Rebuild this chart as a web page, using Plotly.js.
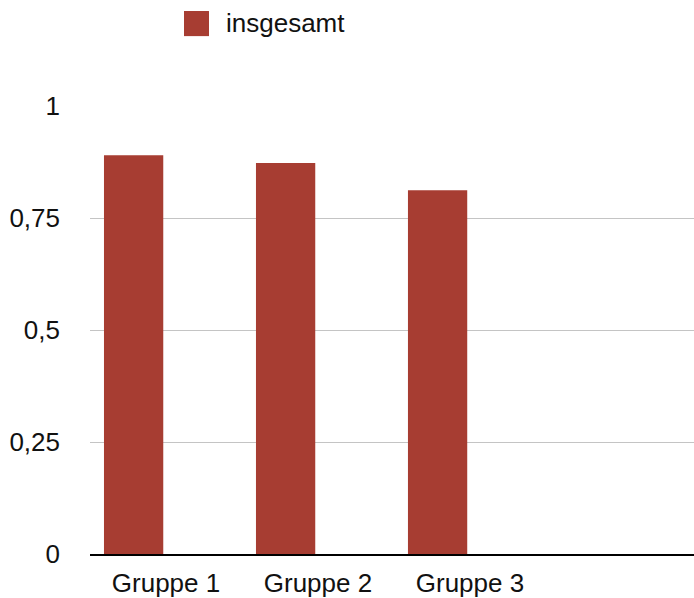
<!DOCTYPE html>
<html>
<head>
<meta charset="utf-8">
<script src="https://cdn.plot.ly/plotly-3.0.1.min.js"></script>
<style>
  html, body { margin: 0; padding: 0; background: #fff; }
  #chart { width: 694px; height: 598px; }
</style>
</head>
<body>
<div id="chart"></div>
<script>
// Share per group
const groups = ['Gruppe 1', 'Gruppe 2', 'Gruppe 3'];
const seriesName = 'insgesamt';
const values = [0.89, 0.873, 0.812];
const yTickVals = [0, 0.25, 0.5, 0.75, 1];
const yTickText = ['0', '0,25', '0,5', '0,75', '1'];

const barColor = 'rgb(167,61,50)';
const textColor = '#111';
const font = 'Liberation Sans, Arial, Helvetica, sans-serif';
const fontSize = 26;

const trace = {
  type: 'bar',
  name: seriesName,
  x: groups,
  y: values,
  width: 0.39,
  offset: -0.408,
  marker: { color: barColor, line: { width: 0 } },
  hoverinfo: 'x+y',
  showlegend: false
};

const layout = {
  width: 694,
  height: 598,
  margin: { l: 90, r: 0, t: 106, b: 44 },
  paper_bgcolor: '#fff',
  plot_bgcolor: '#fff',
  font: { family: font, size: fontSize, color: textColor },
  xaxis: {
    type: 'category',
    range: [-0.5, 3.474],
    showgrid: false,
    zeroline: false,
    showline: true,
    linecolor: '#000',
    linewidth: 2,
    ticks: '',
    ticklabelstandoff: 5,
    tickfont: { family: font, size: fontSize, color: textColor },
    fixedrange: true
  },
  yaxis: {
    range: [0, 1],
    tickvals: yTickVals,
    ticktext: yTickText,
    showgrid: true,
    gridcolor: '#c4c4c4',
    gridwidth: 1,
    zeroline: false,
    showline: false,
    ticks: '',
    ticklabelstandoff: 29,
    tickfont: { family: font, size: fontSize, color: textColor },
    fixedrange: true
  },
  // legend swatch and label above the plot
  shapes: [{
    type: 'rect',
    xref: 'paper', yref: 'paper',
    x0: 0.1556, x1: 0.197,
    y0: 1.156, y1: 1.212,
    fillcolor: barColor,
    line: { width: 0 }
  }],
  annotations: [{
    xref: 'paper', yref: 'paper',
    x: 0.222, y: 1.186,
    xanchor: 'left', yanchor: 'middle',
    text: seriesName,
    showarrow: false,
    font: { family: font, size: fontSize, color: textColor }
  }],
  showlegend: false
};

Plotly.newPlot('chart', [trace], layout, { displayModeBar: false, staticPlot: true });
</script>
</body>
</html>
